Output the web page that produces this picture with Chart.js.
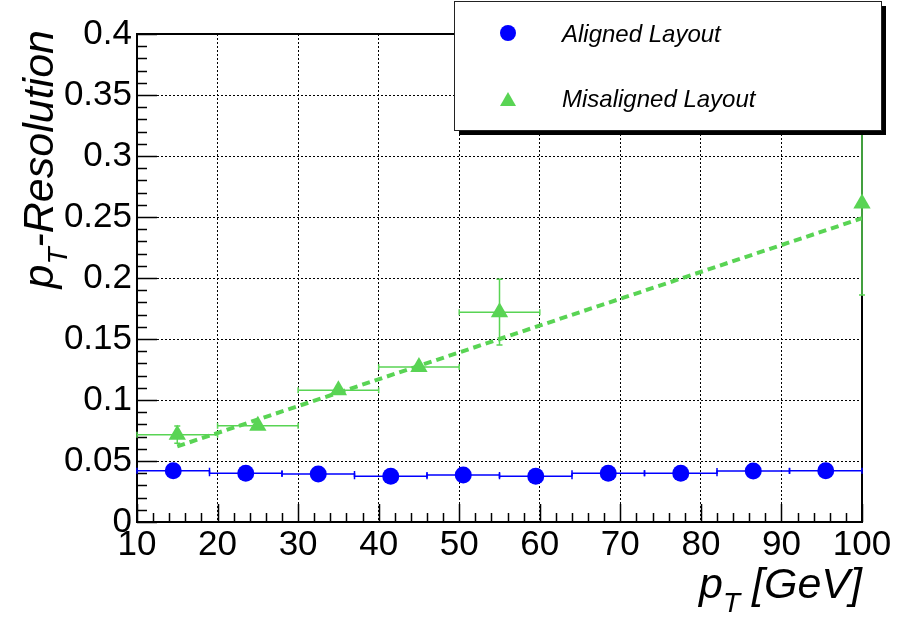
<!DOCTYPE html>
<html>
<head>
<meta charset="utf-8">
<script src="https://cdn.jsdelivr.net/npm/chart.js@4.4.1/dist/chart.umd.min.js"></script>
<style>
  html, body { margin: 0; padding: 0; background: #fff; }
  canvas { display: block; }
</style>
</head>
<body>
<canvas id="resChart" width="897" height="619"></canvas>
<script>
// pT resolution vs pT for the aligned and misaligned tracker layouts
const alignedPt = [14.5, 23.5, 32.5, 41.5, 50.5, 59.5, 68.5, 77.5, 86.5, 95.5];
const alignedRes = [0.042, 0.0399, 0.0393, 0.0375, 0.0385, 0.0375, 0.0399, 0.0399, 0.0418, 0.042];
const alignedBinLo = [10, 19, 28, 37, 46, 55, 64, 73, 82, 91];
const alignedBinHi = [19, 28, 37, 46, 55, 64, 73, 82, 91, 100];
const alignedErr = [0.0008, 0.0008, 0.0008, 0.0008, 0.0008, 0.0008, 0.0008, 0.0008, 0.0008, 0.0008];

const misalignedPt = [15, 25, 35, 45, 55, 100];
const misalignedRes = [0.0716, 0.0789, 0.108, 0.127, 0.172, 0.261];
const misalignedBinLo = [10, 20, 30, 40, 50, 100];
const misalignedBinHi = [20, 30, 40, 50, 60, 100];
const misalignedErr = [0.007, 0.002, 0.002, 0.002, 0.027, 0.075];

// straight-line fit through the misaligned points
const fitPt = [15, 100];
const fitRes = [0.062, 0.249];

const seriesLabels = ['Aligned Layout', 'Misaligned Layout'];

const BLUE = '#0000ff';
const GREEN = '#59d454';
const FONT = '"Liberation Sans", Arial, Helvetica, sans-serif';

function toPoints(xs, ys) {
    return xs.map((x, i) => ({ x: x, y: ys[i] }));
}

// error bars with small end caps, drawn under the markers
const errorBars = {
    id: 'errorBars',
    beforeDatasetsDraw(chart) {
        const ctx = chart.ctx;
        const xs = chart.scales.x;
        const ys = chart.scales.y;
        const sets = [
            { pt: alignedPt, val: alignedRes, lo: alignedBinLo, hi: alignedBinHi, err: alignedErr, color: BLUE },
            { pt: misalignedPt, val: misalignedRes, lo: misalignedBinLo, hi: misalignedBinHi, err: misalignedErr, color: GREEN }
        ];
        ctx.save();
        ctx.lineWidth = 1.5;
        sets.forEach(s => {
            ctx.strokeStyle = s.color;
            s.pt.forEach((p, i) => {
                const px = xs.getPixelForValue(p);
                const py = ys.getPixelForValue(s.val[i]);
                const x0 = xs.getPixelForValue(s.lo[i]);
                const x1 = xs.getPixelForValue(s.hi[i]);
                const yTop = ys.getPixelForValue(s.val[i] + s.err[i]);
                const yBot = ys.getPixelForValue(s.val[i] - s.err[i]);
                ctx.beginPath();
                if (x1 > x0) {
                    ctx.moveTo(x0, py); ctx.lineTo(x1, py);
                    ctx.moveTo(x0, py - 3); ctx.lineTo(x0, py + 3);
                    ctx.moveTo(x1, py - 3); ctx.lineTo(x1, py + 3);
                }
                if (yBot - yTop > 2) {
                    ctx.moveTo(px, yTop); ctx.lineTo(px, yBot);
                    ctx.moveTo(px - 3, yTop); ctx.lineTo(px + 3, yTop);
                    ctx.moveTo(px - 3, yBot); ctx.lineTo(px + 3, yBot);
                }
                ctx.stroke();
            });
        });
        ctx.restore();
    }
};

// solid frame plus inward major/minor ticks on the bottom and left axes
const frameTicks = {
    id: 'frameTicks',
    beforeDatasetsDraw(chart) {
        const ctx = chart.ctx;
        const a = chart.chartArea;
        const xs = chart.scales.x;
        const ys = chart.scales.y;
        ctx.save();
        ctx.strokeStyle = '#000';
        ctx.lineWidth = 1.5;
        ctx.beginPath();
        for (let v = xs.min; v <= xs.max + 1e-9; v += 2) {
            const px = Math.round(xs.getPixelForValue(v)) + 0.5;
            const len = Math.abs(v % 10) < 1e-6 ? 18 : 9;
            ctx.moveTo(px, a.bottom); ctx.lineTo(px, a.bottom - len);
        }
        for (let k = 0; k <= 40; k++) {
            const py = Math.round(ys.getPixelForValue(k / 100)) + 0.5;
            const len = k % 5 === 0 ? 20 : 10;
            ctx.moveTo(a.left, py); ctx.lineTo(a.left + len, py);
        }
        ctx.stroke();
        ctx.lineWidth = 2;
        ctx.strokeRect(a.left, a.top, a.right - a.left, a.bottom - a.top);
        ctx.restore();
    }
};

// axis titles with subscripted T
function drawSubTitle(ctx, main, sub, rest, size) {
    const big = 'italic ' + size + 'px ' + FONT;
    const small = 'italic ' + Math.round(size * 0.66) + 'px ' + FONT;
    ctx.font = big;
    const w1 = ctx.measureText(main).width;
    const w3 = ctx.measureText(rest).width;
    ctx.font = small;
    const w2 = ctx.measureText(sub).width;
    const total = w1 + w2 + w3;
    let x = -total;
    ctx.font = big;
    ctx.fillText(main, x, 0);
    x += w1;
    ctx.font = small;
    ctx.fillText(sub, x, size * 0.33);
    x += w2;
    ctx.font = big;
    ctx.fillText(rest, x, 0);
}

const axisTitles = {
    id: 'axisTitles',
    afterDraw(chart) {
        const ctx = chart.ctx;
        const a = chart.chartArea;
        ctx.save();
        ctx.fillStyle = '#000';
        ctx.textAlign = 'left';
        ctx.textBaseline = 'alphabetic';
        ctx.save();
        ctx.translate(a.right, 598);
        drawSubTitle(ctx, 'p', 'T', ' [GeV]', 43);
        ctx.restore();
        ctx.save();
        ctx.translate(53, 30);
        ctx.rotate(-Math.PI / 2);
        drawSubTitle(ctx, 'p', 'T', '-Resolution', 43);
        ctx.restore();
        ctx.restore();
    }
};

// boxed legend with drop shadow in the upper right
const boxLegend = {
    id: 'boxLegend',
    afterDraw(chart) {
        const ctx = chart.ctx;
        const bx = 454, by = 1, bw = 427, bh = 129;
        ctx.save();
        ctx.fillStyle = '#000';
        ctx.fillRect(bx + 5, by + 5, bw, bh);
        ctx.fillStyle = '#fff';
        ctx.fillRect(bx, by, bw, bh);
        ctx.strokeStyle = '#222';
        ctx.lineWidth = 1;
        ctx.strokeRect(bx + 0.5, by + 0.5, bw, bh);

        ctx.fillStyle = BLUE;
        ctx.beginPath();
        ctx.arc(508, 33, 8, 0, Math.PI * 2);
        ctx.fill();

        ctx.fillStyle = GREEN;
        ctx.beginPath();
        ctx.moveTo(508, 92);
        ctx.lineTo(516, 106);
        ctx.lineTo(500, 106);
        ctx.closePath();
        ctx.fill();

        ctx.fillStyle = '#000';
        ctx.font = 'italic 24px ' + FONT;
        ctx.textBaseline = 'alphabetic';
        ctx.fillText(chart.data.datasets[0].label, 562, 42);
        ctx.fillText(chart.data.datasets[1].label, 562, 107);
        ctx.restore();
    }
};

new Chart(document.getElementById('resChart').getContext('2d'), {
    type: 'scatter',
    data: {
        datasets: [
            {
                label: seriesLabels[0],
                data: toPoints(alignedPt, alignedRes),
                pointStyle: 'circle',
                pointRadius: 8.5,
                backgroundColor: BLUE,
                borderColor: BLUE,
                borderWidth: 0,
                clip: false
            },
            {
                label: seriesLabels[1],
                data: toPoints(misalignedPt, misalignedRes),
                pointStyle: 'triangle',
                pointRadius: 10,
                backgroundColor: GREEN,
                borderColor: GREEN,
                borderWidth: 0,
                clip: false
            },
            {
                label: 'fit',
                type: 'line',
                data: toPoints(fitPt, fitRes),
                borderColor: GREEN,
                borderWidth: 4,
                borderDash: [8, 5],
                pointRadius: 0,
                fill: false
            }
        ]
    },
    options: {
        responsive: false,
        animation: false,
        devicePixelRatio: 1,
        layout: { padding: { top: 34, right: 35, left: 0, bottom: 0 } },
        plugins: {
            legend: { display: false },
            tooltip: { enabled: false }
        },
        scales: {
            x: {
                type: 'linear',
                min: 10,
                max: 100,
                afterFit: scale => { scale.height = 97; },
                ticks: {
                    stepSize: 10,
                    padding: 2,
                    color: '#000',
                    maxRotation: 0,
                    font: { family: FONT, size: 35 }
                },
                grid: { color: '#000', lineWidth: 1, drawTicks: false },
                border: { display: false, dash: [2, 2] }
            },
            y: {
                type: 'linear',
                min: 0,
                max: 0.4,
                afterFit: scale => { scale.width = 137; },
                ticks: {
                    stepSize: 0.05,
                    padding: 5,
                    color: '#000',
                    font: { family: FONT, size: 35 },
                    callback: v => String(Math.round(v * 100) / 100)
                },
                grid: { color: '#000', lineWidth: 1, drawTicks: false },
                border: { display: false, dash: [2, 2] }
            }
        }
    },
    plugins: [frameTicks, errorBars, axisTitles, boxLegend]
});
</script>
</body>
</html>
